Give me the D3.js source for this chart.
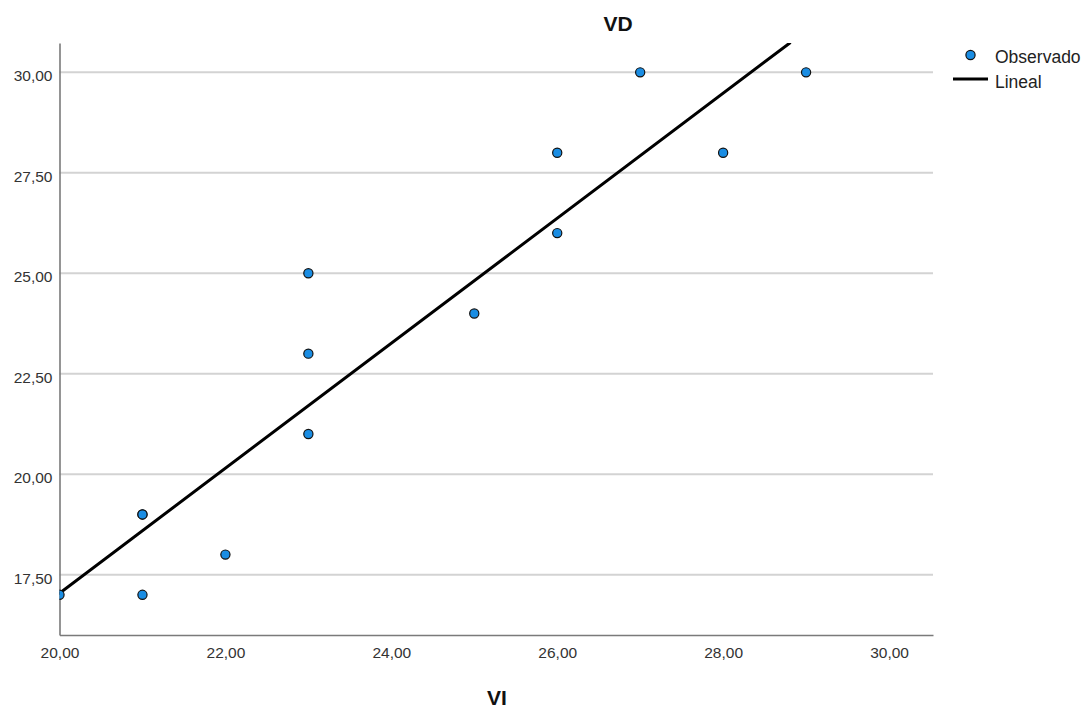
<!DOCTYPE html>
<html><head><meta charset="utf-8">
<script src="https://cdn.jsdelivr.net/npm/d3@7"></script>
<style>body{margin:0;background:#fff}svg{display:block}text{font-family:"Liberation Sans",Arial,sans-serif}</style>
</head><body><svg id="c" width="1092" height="708"></svg>
<script>
const xValues = [20, 21, 21, 21, 22, 23, 23, 23, 25, 26, 26, 27, 28, 29];
const yValues = [17, 19, 19, 17, 18, 25, 23, 21, 24, 28, 26, 30, 28, 30];
const fitIntercept20 = 17.04; // fitted VD at VI = 20
const fitSlope = 1.555;
const xTicks = [20, 22, 24, 26, 28, 30];
const yTicks = [17.5, 20, 22.5, 25, 27.5, 30];
const title = "VD", xTitle = "VI";
const legendLabels = ["Observado", "Lineal"];

const svg = d3.select("#c");
const L = 59.5, R = 933, T = 43, B = 635;
const x = d3.scaleLinear().domain([20, 30.53]).range([L, R]);
const y = d3.scaleLinear().domain([16, 30.73]).range([B, T]);
const fmt = d => d3.format(".2f")(d).replace(".", ",");

svg.append("defs").append("clipPath").attr("id", "clip")
  .append("rect").attr("x", L).attr("y", T).attr("width", R - L).attr("height", B - T);

// gridlines
svg.append("g").selectAll("line").data(yTicks).join("line")
  .attr("x1", L).attr("x2", R).attr("y1", d => y(d)).attr("y2", d => y(d))
  .attr("stroke", "#d3d3d3").attr("stroke-width", 2);

// axes
const yAxis = svg.append("g").attr("transform", `translate(${L},0)`)
  .call(d3.axisLeft(y).tickValues(yTicks).tickFormat(fmt).tickSize(0).tickPadding(7));
yAxis.selectAll("text").attr("dy", "0.55em");
const xAxis = svg.append("g").attr("transform", `translate(0,${B})`)
  .call(d3.axisBottom(x).tickValues(xTicks).tickFormat(fmt).tickSize(0).tickPadding(12));
[yAxis, xAxis].forEach(a => {
  a.select(".domain").attr("stroke", "#7a7a7a").attr("stroke-width", 1.6);
  a.selectAll("text").attr("font-size", 15.5).attr("fill", "#333");
});

// fit line
const fy = v => fitIntercept20 + fitSlope * (v - 20);
const xEnd = 20 + (30.73 - fitIntercept20) / fitSlope;
svg.append("line").attr("clip-path", "url(#clip)")
  .attr("x1", x(20)).attr("y1", y(fy(20))).attr("x2", x(xEnd)).attr("y2", y(fy(xEnd)))
  .attr("stroke", "#000").attr("stroke-width", 3).attr("stroke-linecap", "round");

// points
svg.append("g").attr("clip-path", "url(#clip)").selectAll("circle")
  .data(xValues.map((v, i) => [v, yValues[i]])).join("circle")
  .attr("cx", d => x(d[0])).attr("cy", d => y(d[1])).attr("r", 4.6)
  .attr("fill", "#1a8de3").attr("stroke", "#111").attr("stroke-width", 1.2);

// titles
svg.append("text").attr("x", 618).attr("y", 31).attr("text-anchor", "middle")
  .attr("font-size", 21).attr("font-weight", "bold").attr("fill", "#111").text(title);
svg.append("text").attr("x", 497).attr("y", 705).attr("text-anchor", "middle")
  .attr("font-size", 21).attr("font-weight", "bold").attr("fill", "#111").text(xTitle);

// legend
const lg = svg.append("g");
lg.append("circle").attr("cx", 970.5).attr("cy", 55).attr("r", 4.6)
  .attr("fill", "#1a8de3").attr("stroke", "#111").attr("stroke-width", 1.2);
lg.append("line").attr("x1", 953).attr("x2", 988).attr("y1", 79).attr("y2", 79)
  .attr("stroke", "#000").attr("stroke-width", 3);
lg.selectAll("text").data(legendLabels).join("text")
  .attr("x", 995).attr("y", (d, i) => 63 + i * 25).attr("font-size", 17.5).attr("fill", "#222")
  .attr("font-family", "Roboto, sans-serif").text(d => d);
</script></body></html>
